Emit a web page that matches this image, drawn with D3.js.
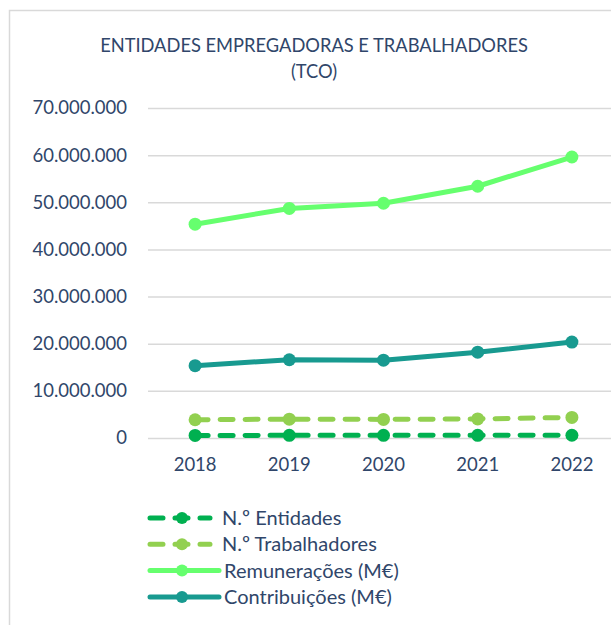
<!DOCTYPE html>
<meta charset="utf-8">
<script src="https://d3js.org/d3.v7.min.js"></script>
<html>
<head>
<style>
  body { margin: 0; background: #fff; }
  text { font-family: Lato, "Open Sans", sans-serif; fill: #30466a; }
</style>
</head>
<body>
<div id="chart"></div>
<script>
// data
var years = ["2018", "2019", "2020", "2021", "2022"];
var entidades = [550000, 560000, 560000, 570000, 580000];
var trabalhadores = [3870000, 4000000, 3950000, 4050000, 4360000];
var remuneracoes = [45350000, 48700000, 49800000, 53400000, 59600000];
var contribuicoes = [15350000, 16600000, 16500000, 18200000, 20350000];
var yTicks = [0, 10000000, 20000000, 30000000, 40000000, 50000000, 60000000, 70000000];

var series = [
  {name: "N.º Entidades", values: entidades, color: "#00b050", dash: true},
  {name: "N.º Trabalhadores", values: trabalhadores, color: "#92d050", dash: true},
  {name: "Remunerações (M€)", values: remuneracoes, color: "#66ff6e", dash: false},
  {name: "Contribuições (M€)", values: contribuicoes, color: "#189a90", dash: false}
];

var W = 611, H = 625;
var plot = {left: 148, right: 619, top: 108, bottom: 438};
var dashPattern = "13,12";

var svg = d3.select("#chart").append("svg")
    .attr("width", W)
    .attr("height", H);

// chart border (runs off the right and bottom)
svg.append("rect")
    .attr("x", 9.5).attr("y", 10.5)
    .attr("width", 700).attr("height", 700)
    .attr("fill", "none")
    .attr("stroke", "#d9d9d9")
    .attr("stroke-width", 1.5);

var x = d3.scaleBand().domain(years).range([plot.left, plot.right]);
var y = d3.scaleLinear().domain([0, 70000000]).range([plot.bottom, plot.top]);
var fmt = function(v) { return d3.format(",")(v).replace(/,/g, "."); };

// title
var title = svg.append("text")
    .attr("text-anchor", "middle")
    .style("font-size", "18.3px");
title.append("tspan").attr("x", 314).attr("y", 52).text("ENTIDADES EMPREGADORAS E TRABALHADORES");
title.append("tspan").attr("x", 314).attr("y", 78).text("(TCO)");

// gridlines + y labels
var yAxis = svg.append("g")
    .attr("transform", "translate(" + plot.left + ",0)")
    .call(d3.axisLeft(y).tickValues(yTicks).tickSize(-(plot.right - plot.left)).tickPadding(21).tickFormat(fmt));
yAxis.select(".domain").remove();
yAxis.selectAll("line").attr("stroke", "#d9d9d9").attr("stroke-width", 1.5);
yAxis.selectAll("text").style("font-size", "18.5px").style("font-family", "Lato, sans-serif").attr("fill", "#30466a");

// x labels
var xAxis = svg.append("g")
    .attr("transform", "translate(0," + plot.bottom + ")")
    .call(d3.axisBottom(x).tickSize(0).tickPadding(20));
xAxis.select(".domain").remove();
xAxis.selectAll("text").style("font-size", "18.5px").style("font-family", "Lato, sans-serif").attr("fill", "#30466a");

var cx = function(i) { return x(years[i]) + x.bandwidth() / 2; };
var line = d3.line()
    .x(function(d, i) { return cx(i); })
    .y(function(d) { return y(d); });

series.forEach(function(s) {
  var g = svg.append("g");
  g.append("path")
      .attr("d", line(s.values))
      .attr("fill", "none")
      .attr("stroke", s.color)
      .attr("stroke-width", 5)
      .attr("stroke-linecap", "round")
      .attr("stroke-linejoin", "round")
      .attr("stroke-dasharray", s.dash ? dashPattern : null);
  g.selectAll("circle")
    .data(s.values)
    .enter().append("circle")
      .attr("cx", function(d, i) { return cx(i); })
      .attr("cy", function(d) { return y(d); })
      .attr("r", 6.5)
      .attr("fill", s.color);
});

// legend
var legend = svg.append("g");
series.forEach(function(s, i) {
  var ly = 518 + i * 26.3;
  var lg = legend.append("g");
  if (s.dash) {
    lg.append("line")
        .attr("x1", 150).attr("x2", 210).attr("y1", ly).attr("y2", ly)
        .attr("stroke", s.color).attr("stroke-width", 5)
        .attr("stroke-linecap", "round")
        .attr("stroke-dasharray", dashPattern);
  } else {
    lg.append("line")
        .attr("x1", 150).attr("x2", 219).attr("y1", ly).attr("y2", ly)
        .attr("stroke", s.color).attr("stroke-width", 5)
        .attr("stroke-linecap", "round");
  }
  lg.append("circle")
      .attr("cx", 182).attr("cy", ly).attr("r", 6)
      .attr("fill", s.color);
  lg.append("text")
      .attr("x", s.dash ? 222 : 224)
      .attr("y", ly)
      .attr("dy", "0.35em")
      .style("font-size", "20px")
      .text(s.name);
});
</script>
</body>
</html>
